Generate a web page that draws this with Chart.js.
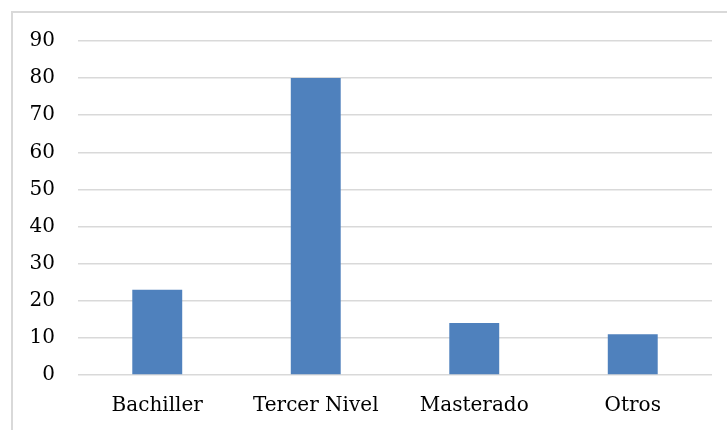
<!DOCTYPE html>
<html>
<head>
<meta charset="utf-8">
<script src="https://cdn.jsdelivr.net/npm/chart.js@4"></script>
<style>
  body { margin: 0; background: #fff; overflow: hidden; }
  #frame { position: absolute; left: 11px; top: 11px; width: 740px; height: 440px; border: 2px solid #d9d9d9; }
  #wrap { position: absolute; left: 0; top: 0; width: 727px; height: 430px; }
</style>
</head>
<body>
<div id="frame"></div>
<div id="wrap"><canvas id="chart"></canvas></div>
<script>
const categories = ["Bachiller", "Tercer Nivel", "Masterado", "Otros"];
const values = [23, 80, 14, 11];
const yTicks = [0, 10, 20, 30, 40, 50, 60, 70, 80, 90];

const font = { family: "'DejaVu Serif', serif", size: 20 };

new Chart(document.getElementById("chart"), {
  type: "bar",
  data: {
    labels: categories,
    datasets: [{
      data: values,
      backgroundColor: "#4f81bd",
      categoryPercentage: 1,
      barPercentage: 0.315
    }]
  },
  options: {
    responsive: true,
    maintainAspectRatio: false,
    animation: false,
    layout: { padding: { top: 41, right: 15, left: 0, bottom: 0 } },
    plugins: { legend: { display: false }, tooltip: { enabled: false } },
    scales: {
      x: {
        grid: { display: false },
        border: { display: false },
        ticks: { color: "#000", font: font, padding: 11 },
        afterFit: s => { s.height = 55; }
      },
      y: {
        min: 0,
        max: 90,
        afterBuildTicks: s => { s.ticks = yTicks.map(v => ({ value: v })); },
        grid: { color: "#d9d9d9", lineWidth: 1.5, drawTicks: false },
        border: { display: false },
        ticks: { color: "#000", font: font, padding: 23 },
        afterFit: s => { s.width = 78; }
      }
    }
  }
});
</script>
</body>
</html>
